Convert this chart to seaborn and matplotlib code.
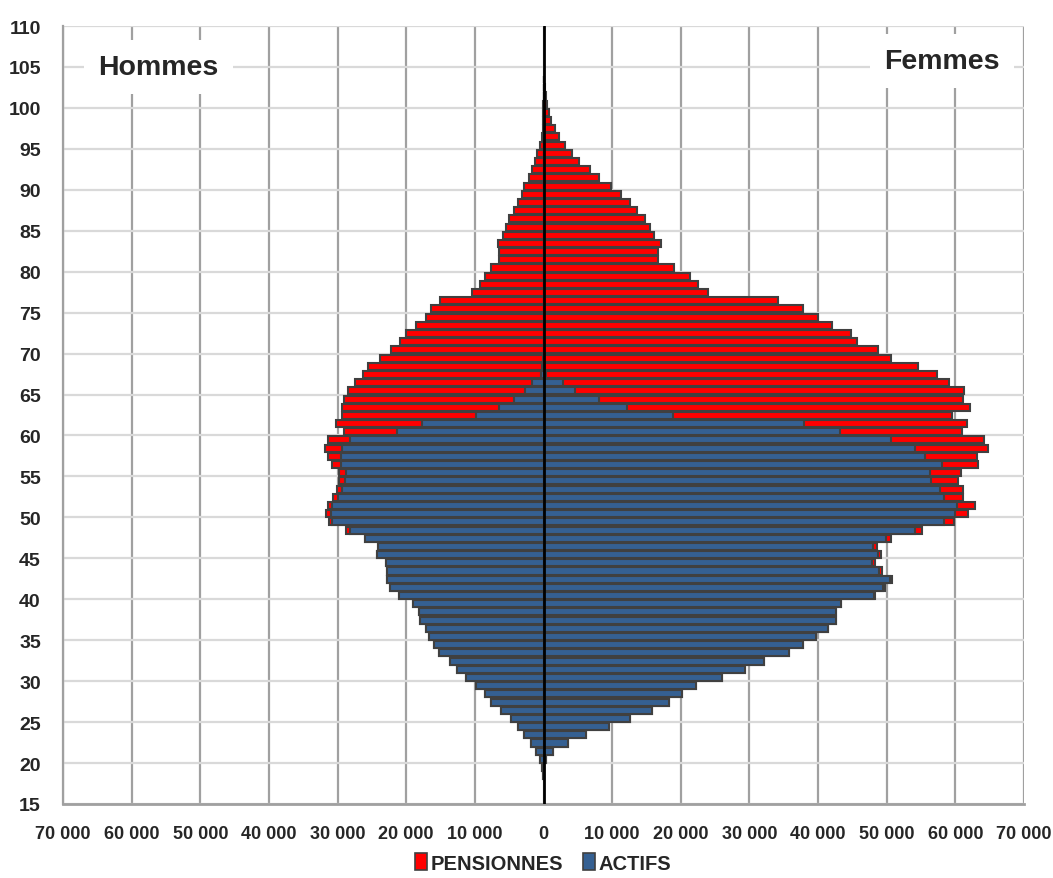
import numpy as np
import pandas as pd
import seaborn as sns
import matplotlib.pyplot as plt
from matplotlib.patches import Patch
from matplotlib.ticker import FuncFormatter

# ages 18 .. 103
ages = list(range(18, 104))

hommes_total = [
    80, 250, 580, 1160, 1800, 2770, 3690, 4710, 6160, 7620,
    8490, 9800, 11360, 12620, 13690, 15190, 15970, 16740, 17100, 18000,
    18200, 19020, 21110, 22370, 22760, 22760, 22910, 24270, 24070, 25960,
    28730, 31300, 31640, 31400, 30720, 30140, 29850, 29800, 30820, 31400,
    31880, 31400, 29070, 30280, 29310, 29410, 29070, 28490, 27520, 26300,
    25530, 23880, 22180, 20870, 20090, 18640, 17180, 16450, 15140, 10480,
    9320, 8590, 7720, 6500, 6410, 6650, 5920, 5530, 5050, 4320,
    3740, 3110, 2770, 2140, 1700, 1310, 970, 440, 240, 100,
    50, 30, 20, 0, 0, 0,
]
hommes_actifs = [
    80, 250, 580, 1160, 1800, 2770, 3690, 4710, 6160, 7620,
    8490, 9800, 11360, 12620, 13690, 15190, 15970, 16740, 17100, 18000,
    18200, 19020, 21110, 22370, 22760, 22760, 22910, 24270, 24070, 25960,
    28240, 30870, 30960, 30770, 29940, 29310, 28920, 28730, 29550, 29550,
    29310, 28240, 21300, 17710, 9900, 6500, 4320, 2670, 1700, 300,
    150, 50, 0, 0, 0, 0, 0, 0, 0, 0,
    0, 0, 0, 0, 0, 0, 0, 0, 0, 0,
    0, 0, 0, 0, 0, 0, 0, 0, 0, 0,
    0, 0, 0, 0, 0, 0,
]
femmes_total = [
    30, 100, 300, 1410, 3540, 6210, 9510, 12670, 15820, 18300,
    20190, 22230, 25960, 29360, 32180, 35720, 37850, 39750, 41440, 42610,
    42660, 43390, 48340, 49740, 50760, 49310, 48290, 49210, 48530, 50620,
    55080, 59740, 61880, 62800, 61150, 61150, 60420, 60810, 63280, 63140,
    64690, 64110, 60950, 61730, 59500, 62120, 61150, 61200, 59110, 57270,
    54500, 50660, 48770, 45620, 44740, 42030, 39990, 37850, 34210, 24020,
    22520, 21400, 19070, 16740, 16740, 17180, 16160, 15580, 14850, 13690,
    12620, 11360, 9900, 8060, 6750, 5100, 4080, 3110, 2230, 1700,
    1160, 830, 580, 390, 240, 100,
]
femmes_actifs = [
    30, 100, 300, 1410, 3540, 6210, 9510, 12670, 15820, 18300,
    20190, 22230, 25960, 29360, 32180, 35720, 37850, 39750, 41440, 42610,
    42660, 43390, 48090, 49400, 50470, 48820, 47850, 48720, 47950, 49890,
    54060, 58380, 59980, 60230, 58280, 57750, 56490, 56340, 57990, 55610,
    54110, 50620, 43240, 38000, 18830, 12130, 8060, 4610, 2810, 390,
    200, 100, 0, 0, 0, 0, 0, 0, 0, 0,
    0, 0, 0, 0, 0, 0, 0, 0, 0, 0,
    0, 0, 0, 0, 0, 0, 0, 0, 0, 0,
    0, 0, 0, 0, 0, 0,
]

ROUGE = "#FF0000"
BLEU = "#356092"
BORD = "#404040"

sns.set_theme(style="white")
plt.rcParams["font.family"] = ["Liberation Sans", "DejaVu Sans"]
plt.rcParams["font.weight"] = "bold"

df = pd.DataFrame({
    "age": np.array(ages) + 0.45,
    "h_tot": -np.array(hommes_total),
    "h_act": -np.array(hommes_actifs),
    "f_tot": np.array(femmes_total),
    "f_act": np.array(femmes_actifs),
})

fig = plt.figure(figsize=(10.53, 8.79), dpi=100)
ax = fig.add_axes([63 / 1053, 1 - 805 / 879, (1024 - 63) / 1053, (805 - 27) / 879])

# total (rouge) d'abord, puis les actifs (bleu) par-dessus
for col, couleur in [("h_tot", ROUGE), ("f_tot", ROUGE), ("h_act", BLEU), ("f_act", BLEU)]:
    sns.barplot(data=df, x=col, y="age", orient="y", native_scale=True,
                width=0.86, color=couleur, saturation=1, edgecolor=BORD,
                linewidth=1.5, errorbar=None, ax=ax, zorder=3)

ax.axvline(0, color="black", lw=2, zorder=5)

ax.set_xlim(-70000, 70000)
ax.set_ylim(15, 110)
ax.set_xticks(range(-70000, 70001, 10000))
ax.set_yticks(range(15, 111, 5))
ax.xaxis.set_major_formatter(FuncFormatter(lambda v, p: f"{abs(int(v)):,}".replace(",", " ")))
ax.set_xlabel("")
ax.set_ylabel("")

ax.set_axisbelow(True)
ax.grid(axis="x", color="#a0a0a0", lw=1.6)
ax.grid(axis="y", color="#d9d9d9", lw=1.6)
for s in ["top", "right"]:
    ax.spines[s].set_visible(False)
ax.spines["left"].set_color("#a0a0a0")
ax.spines["left"].set_linewidth(1.6)
ax.spines["bottom"].set_color("#a0a0a0")
ax.spines["bottom"].set_linewidth(2)

ax.tick_params(axis="x", length=5, width=1.5, color="#a0a0a0", pad=10, labelsize=13)
ax.tick_params(axis="y", length=0, pad=16, labelsize=14)
for lab in ax.get_xticklabels() + ax.get_yticklabels():
    lab.set_fontweight("bold")

boite = dict(boxstyle="square,pad=0.5", facecolor="white", edgecolor="none")
ax.text(0.099, 0.947, "Hommes", transform=ax.transAxes, ha="center", va="center",
        fontsize=20.5, fontweight="bold", bbox=boite, zorder=2)
ax.text(0.915, 0.955, "Femmes", transform=ax.transAxes, ha="center", va="center",
        fontsize=20.5, fontweight="bold", bbox=boite, zorder=2)

poignees = [Patch(facecolor=ROUGE, edgecolor=BORD, lw=1.2),
            Patch(facecolor=BLEU, edgecolor=BORD, lw=1.2)]
fig.legend(poignees, ["PENSIONNES", "ACTIFS"], loc="center",
           bbox_to_anchor=(543 / 1053, 1 - 864 / 879), ncol=2, frameon=False,
           handlelength=0.6, handleheight=0.9, handletextpad=0.15,
           columnspacing=1.0, prop={"size": 14.5, "weight": "bold"})

fig.savefig("out.png", dpi=100)
